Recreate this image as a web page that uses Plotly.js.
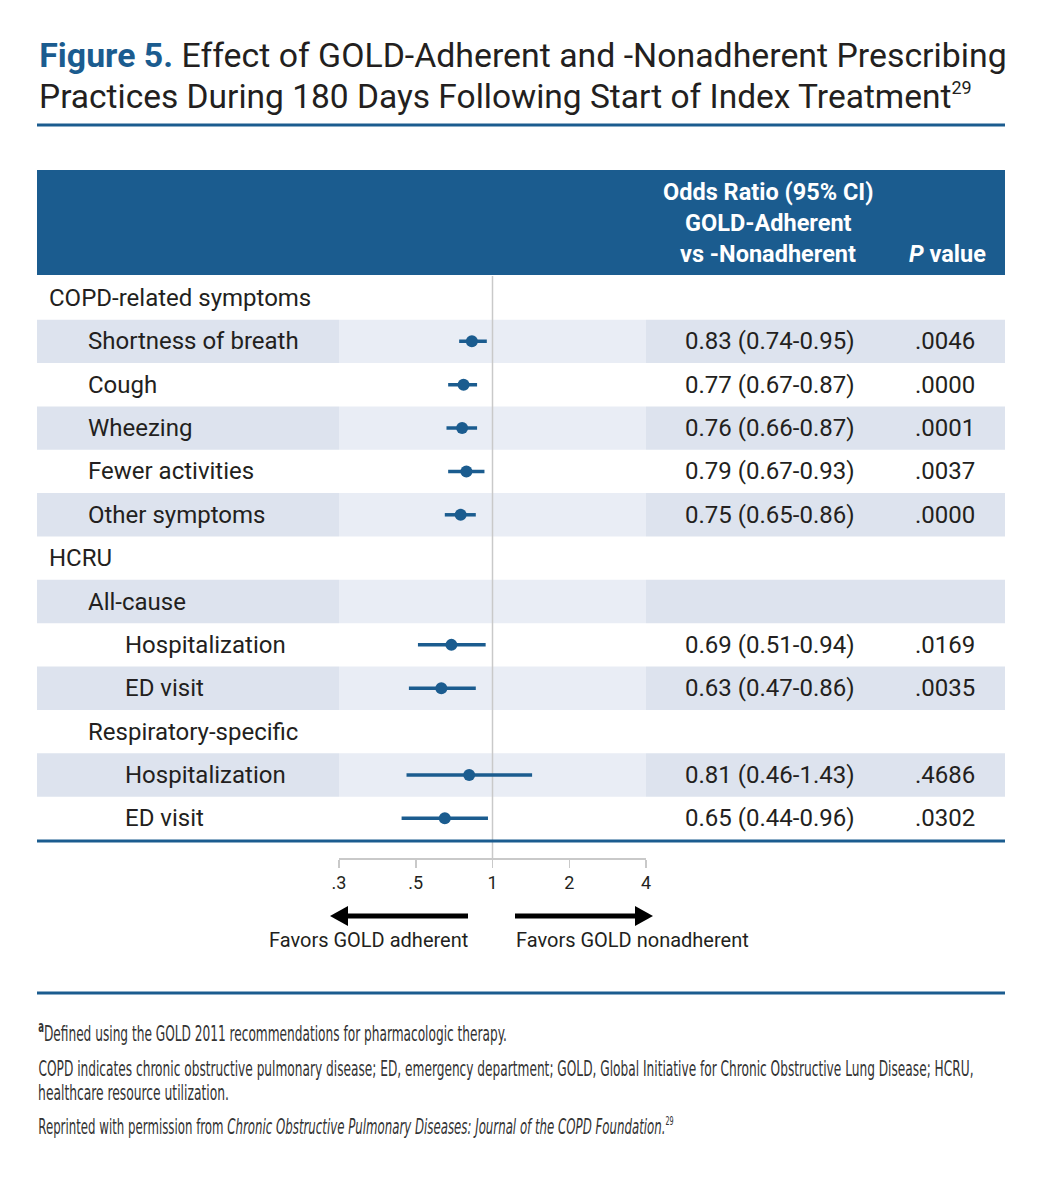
<!DOCTYPE html>
<html>
<head>
<meta charset="utf-8">
<script src="https://cdn.plot.ly/plotly-3.0.1.min.js"></script>
<style>html,body{margin:0;padding:0;background:#fff;}#chart{width:1046px;height:1200px;}</style>
</head>
<body>
<div id="chart"></div>
<script>
// ---------- data ----------
const rowLabels = ["COPD-related symptoms","Shortness of breath","Cough","Wheezing","Fewer activities","Other symptoms","HCRU","All-cause","Hospitalization","ED visit","Respiratory-specific","Hospitalization","ED visit"];
const rowLevels = [0,1,1,1,1,1,0,1,2,2,1,2,2];
const oddsRatio = [null,0.83,0.77,0.76,0.79,0.75,null,null,0.69,0.63,null,0.81,0.65];
const ciLow     = [null,0.74,0.67,0.66,0.67,0.65,null,null,0.51,0.47,null,0.46,0.44];
const ciHigh    = [null,0.95,0.87,0.87,0.93,0.86,null,null,0.94,0.86,null,1.43,0.96];
const pValues   = [null,".0046",".0000",".0001",".0037",".0000",null,null,".0169",".0035",null,".4686",".0302"];
const tickVals  = [0.25,0.5,1,2,4];
const tickText  = [".3",".5","1","2","4"];

// ---------- helpers / styles ----------
const W = 1046, H = 1200;
const px = x => x / W;
const py = y => 1 - y / H;
const BLUE = '#1b5c8f';
const TEXT = '#231f20';
const SHADE_D = '#dde3ee';
const SHADE_L = '#e9edf5';
const MAIN = 'Roboto, "Open Sans", sans-serif';
const NARROW = '"DejaVu Sans Condensed", "Liberation Sans Narrow", Roboto, sans-serif';
const indentX = [47, 86, 123];

// ---------- traces ----------
const ciX = [], ciY = [], ptX = [], ptY = [];
rowLabels.forEach((_, i) => {
  if (oddsRatio[i] !== null) {
    ciX.push(ciLow[i], ciHigh[i], null);
    ciY.push(i, i, null);
    ptX.push(oddsRatio[i]);
    ptY.push(i);
  }
});
const traces = [
  {type:'scatter', mode:'lines', x:ciX, y:ciY, line:{color:BLUE, width:3.5}, hoverinfo:'skip', showlegend:false, cliponaxis:false},
  {type:'scatter', mode:'markers', x:ptX, y:ptY, marker:{color:BLUE, size:12}, showlegend:false, cliponaxis:false}
];

// ---------- shapes ----------
const shapes = [];
rowLabels.forEach((_, i) => {
  if (i % 2 === 1) {
    [[37,339,SHADE_D],[339,646,SHADE_L],[646,1005,SHADE_D]].forEach(s => {
      shapes.push({type:'rect', xref:'paper', yref:'y', x0:px(s[0]), x1:px(s[1]), y0:i-0.5, y1:i+0.5, fillcolor:s[2], line:{width:0}, layer:'below'});
    });
  }
});
shapes.push({type:'rect', xref:'paper', yref:'paper', x0:px(37), x1:px(1005), y0:py(275), y1:py(170), fillcolor:BLUE, line:{width:0}, layer:'below'});
[[125,3],[841,3],[993,3]].forEach(r => {
  shapes.push({type:'line', xref:'paper', yref:'paper', x0:px(37), x1:px(1005), y0:py(r[0]), y1:py(r[0]), line:{color:BLUE, width:r[1]}});
});
shapes.push({type:'line', xref:'x', yref:'paper', x0:1, x1:1, y0:py(276), y1:py(858), line:{color:'#c9c9c9', width:1.5}, layer:'below'});
const ay = 916;
shapes.push({type:'line', xref:'paper', yref:'paper', x0:px(468), x1:px(344), y0:py(ay), y1:py(ay), line:{color:'#000', width:5}});
shapes.push({type:'path', xref:'paper', yref:'paper', path:`M ${px(330)} ${py(ay)} L ${px(348)} ${py(ay-10)} L ${px(348)} ${py(ay+10)} Z`, fillcolor:'#000', line:{width:0}});
shapes.push({type:'line', xref:'paper', yref:'paper', x0:px(515), x1:px(639), y0:py(ay), y1:py(ay), line:{color:'#000', width:5}});
shapes.push({type:'path', xref:'paper', yref:'paper', path:`M ${px(653)} ${py(ay)} L ${px(635)} ${py(ay-10)} L ${px(635)} ${py(ay+10)} Z`, fillcolor:'#000', line:{width:0}});

// ---------- annotations ----------
const ann = [];
const fit = []; // [annotation index, target width px]
const A = (o, w) => { ann.push(Object.assign({showarrow:false, xref:'paper', yref:'paper'}, o)); if (w) fit.push([ann.length-1, w]); };
// title
const tf = {family:MAIN, size:33.5, color:TEXT};
A({x:px(37), y:py(56), xanchor:'left', yanchor:'middle', text:`<b><span style="color:${BLUE}">Figure 5.</span></b> Effect of GOLD-Adherent and -Nonadherent Prescribing`, font:tf}, 968);
A({x:px(37), y:py(97), xanchor:'left', yanchor:'middle', text:'Practices During 180 Days Following Start of Index Treatment<sup><span style="font-size:18px">29</span></sup>', font:tf});
// header
const hf = {family:MAIN, size:23.5, color:'#ffffff'};
A({x:px(768), y:py(192), xanchor:'center', yanchor:'middle', text:'<b>Odds Ratio (95% CI)</b>', font:hf});
A({x:px(768), y:py(223), xanchor:'center', yanchor:'middle', text:'<b>GOLD-Adherent</b>', font:hf});
A({x:px(768), y:py(254), xanchor:'center', yanchor:'middle', text:'<b>vs -Nonadherent</b>', font:hf});
A({x:px(947), y:py(254), xanchor:'center', yanchor:'middle', text:'<b><i>P</i> value</b>', font:hf});
// rows
const rf = {family:MAIN, size:24, color:TEXT};
rowLabels.forEach((lab, i) => {
  A({yref:'y', y:i, x:px(indentX[rowLevels[i]]), xanchor:'left', yanchor:'middle', text:lab, font:rf});
  if (oddsRatio[i] !== null) {
    const t = `${oddsRatio[i].toFixed(2)} (${ciLow[i].toFixed(2)}-${ciHigh[i].toFixed(2)})`;
    A({yref:'y', y:i, x:px(683), xanchor:'left', yanchor:'middle', text:t, font:rf});
    A({yref:'y', y:i, x:px(913), xanchor:'left', yanchor:'middle', text:pValues[i], font:rf});
  }
});
// favors labels
const ff = {family:MAIN, size:20, color:TEXT};
A({x:px(368), y:py(940), xanchor:'center', yanchor:'middle', text:'Favors GOLD adherent', font:ff});
A({x:px(632), y:py(940), xanchor:'center', yanchor:'middle', text:'Favors GOLD nonadherent', font:ff});
// footnotes
const nf = {family:NARROW, size:22, color:'#333333'};
A({x:px(36), y:py(1032), xanchor:'left', yanchor:'middle', text:`<b><sup>a</sup></b>Defined using the GOLD 2011 recommendations for pharmacologic therapy.`, font:nf}, 469);
A({x:px(36), y:py(1068), xanchor:'left', yanchor:'middle', text:'COPD indicates chronic obstructive pulmonary disease; ED, emergency department; GOLD, Global Initiative for Chronic Obstructive Lung Disease; HCRU,', font:nf}, 936);
A({x:px(36), y:py(1092), xanchor:'left', yanchor:'middle', text:'healthcare resource utilization.', font:nf}, 191);
A({x:px(36), y:py(1126), xanchor:'left', yanchor:'middle', text:'Reprinted with permission from <i>Chronic Obstructive Pulmonary Diseases: Journal of the COPD Foundation.</i><sup><span style="font-size:12px">29</span></sup>', font:nf}, 636);

const layout = {
  width:W, height:H, margin:{l:0,r:0,t:0,b:0},
  paper_bgcolor:'#fff', plot_bgcolor:'rgba(0,0,0,0)',
  font:{family:MAIN, color:TEXT},
  showlegend:false,
  xaxis:{type:'log', domain:[px(339), px(646)], range:[Math.log10(0.25), Math.log10(4)],
    tickvals:tickVals, ticktext:tickText, ticks:'outside', ticklen:8, tickwidth:1.5, tickcolor:'#c9c9c9',
    showline:true, linecolor:'#c9c9c9', linewidth:1.5, showgrid:false, zeroline:false,
    anchor:'free', position:py(858), tickfont:{family:MAIN, size:18, color:TEXT}, fixedrange:true},
  yaxis:{domain:[py(840), py(276.3)], range:[12.5,-0.5], visible:false, showgrid:false, zeroline:false, fixedrange:true},
  shapes:shapes, annotations:ann
};
Plotly.newPlot('chart', traces, layout, {displayModeBar:false, staticPlot:true}).then(gd => {
  const nodes = gd.querySelectorAll('.annotation');
  fit.forEach(([k, w]) => {
    const t = nodes[k] && nodes[k].querySelector('text');
    if (!t) return;
    const b = t.getBBox();
    if (!b.width) return;
    const s = w / b.width;
    const prev = t.getAttribute('transform') || '';
    t.setAttribute('transform', `${prev} translate(${b.x},0) scale(${s},1) translate(${-b.x},0)`);
  });
});
</script>
</body>
</html>
